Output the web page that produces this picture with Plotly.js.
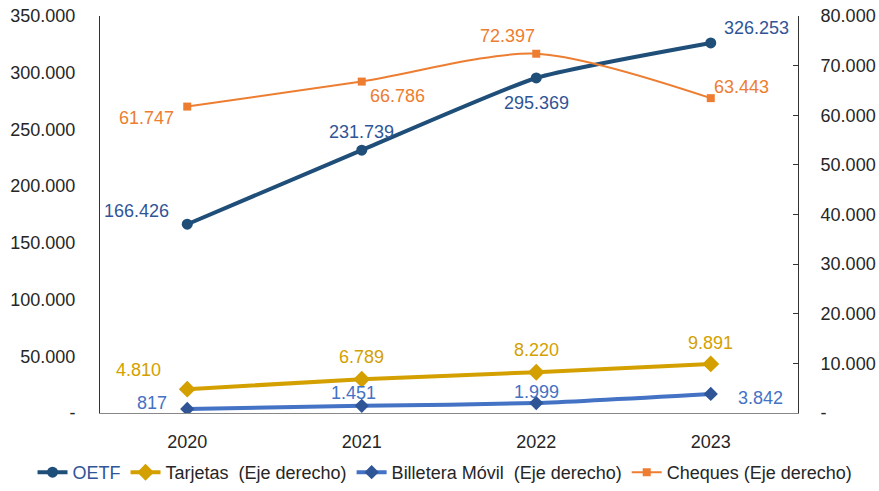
<!DOCTYPE html>
<html><head><meta charset="utf-8">
<script src="https://cdn.plot.ly/plotly-3.0.1.min.js"></script>
<style>html,body{margin:0;padding:0;background:#fff}#c{width:879px;height:491px}</style>
</head><body><div id="c"></div>
<script>
const years = ['2020','2021','2022','2023'];
const oetf = [166426, 231739, 295369, 326253];
const tarjetas = [4810, 6789, 8220, 9891];
const billetera = [817, 1451, 1999, 3842];
const cheques = [61747, 66786, 72397, 63443];
const leftTicks = [0,50000,100000,150000,200000,250000,300000,350000];
const rightTicks = [0,10000,20000,30000,40000,50000,60000,70000,80000];

function fmt(v){ if(v===0) return '-'; return String(v).replace(/\B(?=(\d{3})+(?!\d))/g,'.'); }

const cNavy='#1F4E79', cNavyTxt='#2F5597', cGold='#D4A000', cBlue='#4472C4', cBlueM='#2F5597', cOrange='#ED7D31';
const FONT='Liberation Sans, Arial, sans-serif';

const traces = [
 {name:'<span style="color:'+cNavyTxt+'">OETF</span>', x:years, y:oetf, yaxis:'y', mode:'lines+markers',
  line:{color:cNavy,width:4,shape:'spline',smoothing:0.5}, marker:{symbol:'circle',size:11,color:cNavy}},
 {name:'Tarjetas  (Eje derecho)', x:years, y:tarjetas, yaxis:'y2', mode:'lines+markers',
  line:{color:cGold,width:4,shape:'spline',smoothing:0.5}, marker:{symbol:'diamond',size:13,color:cGold}},
 {name:'Billetera Móvil  (Eje derecho)', x:years, y:billetera, yaxis:'y2', mode:'lines+markers',
  line:{color:cBlue,width:4,shape:'spline',smoothing:0.5}, marker:{symbol:'diamond',size:11,color:cBlueM}},
 {name:'Cheques (Eje derecho)', x:years, y:cheques, yaxis:'y2', mode:'lines+markers',
  line:{color:cOrange,width:2,shape:'spline',smoothing:0.8}, marker:{symbol:'square',size:8,color:cOrange}}
];

const labelSets = [
 {vals:oetf, ax:'y', color:cNavyTxt, dx:[-51,0,0,46], dy:[13,18,-25,15]},
 {vals:cheques, ax:'y2', color:cOrange, dx:[-41,36,-29,31], dy:[-11,-14,18,11]},
 {vals:tarjetas, ax:'y2', color:cGold, dx:[-49,0,0,0], dy:[19,22,22,21]},
 {vals:billetera, ax:'y2', color:cBlue, dx:[-35,-8,0,50], dy:[6,13,11,-4]}
];
const annotations = [];
labelSets.forEach(s=>{
  s.vals.forEach((v,i)=>{
    annotations.push({x:i, y:v, xref:'x', yref:s.ax, text:fmt(v), showarrow:false,
      xshift:s.dx[i], yshift:s.dy[i], xanchor:'center', yanchor:'middle',
      font:{family:FONT, size:18, color:s.color}});
  });
});

const layout = {
  width:879, height:491, margin:{l:10,r:5,t:16,b:0},
  paper_bgcolor:'#fff', plot_bgcolor:'rgba(0,0,0,0)',
  font:{family:FONT, size:18, color:'#262626'},
  showlegend:true,
  legend:{orientation:'h', x:0.5035, xanchor:'center', y:0, yanchor:'bottom',
    bgcolor:'rgba(0,0,0,0)',
    font:{family:FONT, size:18,color:'#262626'}, traceorder:'normal', itemwidth:30, tracegroupgap:0},
  xaxis:{type:'category', domain:[0.10417,0.91204], range:[-0.5,3.5], showgrid:false, showline:true,
    linecolor:'#888', linewidth:1, anchor:'y',
    ticks:'', tickfont:{size:18,color:'#262626'}, zeroline:false, ticklabelstandoff:12, automargin:false},
  yaxis:{domain:[0.16421,1], range:[0,350000], tickvals:leftTicks, ticktext:leftTicks.map(fmt), showgrid:false,
    showline:true, linecolor:'#333', linewidth:1, ticks:'', zeroline:false, ticklabelstandoff:20,
    tickfont:{size:18,color:'#262626'}, automargin:false, anchor:'x'},
  yaxis2:{range:[0,80000], overlaying:'y', side:'right', anchor:'x', tickvals:rightTicks, ticktext:rightTicks.map(fmt),
    showgrid:false, showline:true, linecolor:'#333', linewidth:1, ticks:'inside', ticklen:5, tickcolor:'#333',
    zeroline:false, ticklabelstandoff:18, tickfont:{size:18,color:'#262626'}, automargin:false},
  annotations:annotations
};
Plotly.newPlot('c', traces, layout, {displayModeBar:false, staticPlot:true});
</script></body></html>
